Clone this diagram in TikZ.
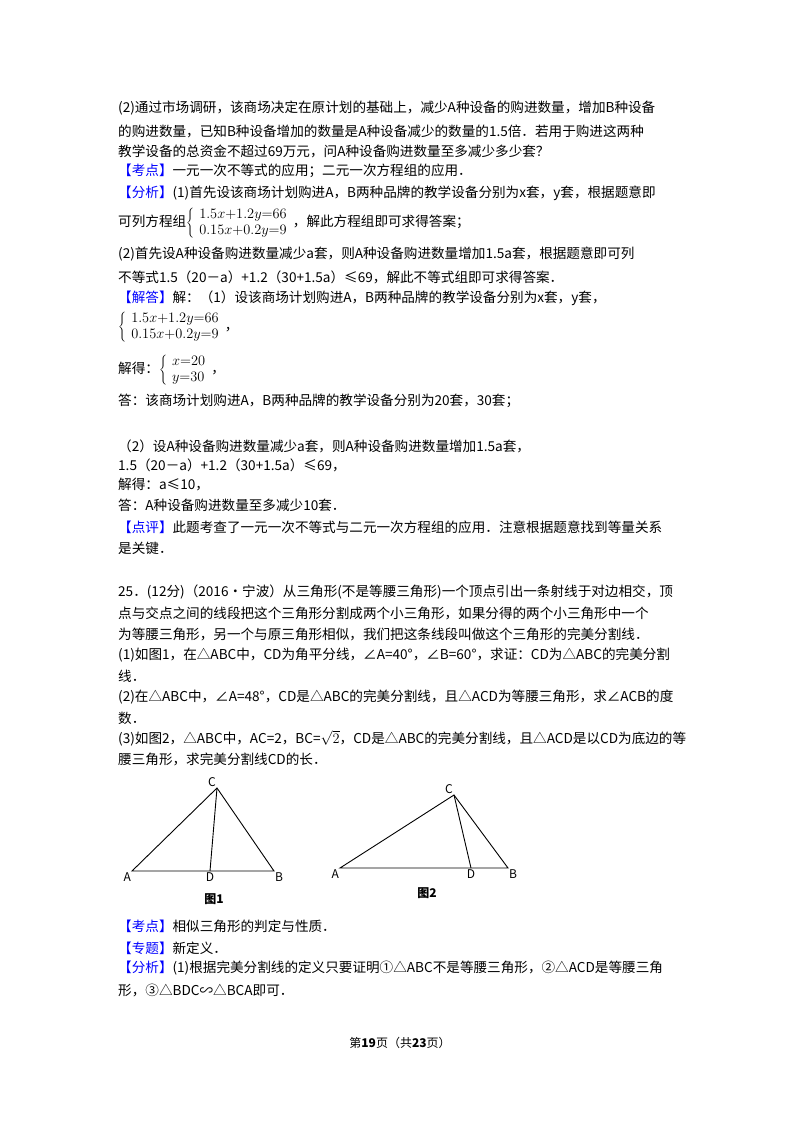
\documentclass[tikz,border=0pt]{standalone}
\usepackage{fontspec}
\setmainfont{Noto Sans CJK SC}
\begin{document}
\begin{tikzpicture}[x=1pt,y=-1pt,
  ln/.style={anchor=west,inner sep=0pt,font=\fontsize{13.6}{15}\selectfont},
  lbl/.style={inner sep=1pt,font=\fontsize{12}{14}\selectfont\itshape},
  edge/.style={line width=0.9pt}]
\newcommand{\kd}[1]{\textcolor{blue}{【#1】}}
\useasboundingbox (0,0) rectangle (800,1132);
\node[ln] (l1) at (118,108) {(2)通过市场调研，该商场决定在原计划的基础上，减少A种设备的购进数量，增加B种设备};
\node[ln] (l2) at (118,131) {的购进数量，已知B种设备增加的数量是A种设备减少的数量的1.5倍．若用于购进这两种};
\node[ln] (l3) at (118,151) {教学设备的总资金不超过69万元，问A种设备购进数量至多减少多少套？};
\node[ln] (l4) at (118,171) {\kd{考点}一元一次不等式的应用；二元一次方程组的应用．};
\node[ln] (l5) at (118,193) {\kd{分析}(1)首先设该商场计划购进A，B两种品牌的教学设备分别为x套，y套，根据题意即};
\node[ln] (l6) at (118,223) {可列方程组$\left\{\begin{array}{l}1.5x{+}1.2y{=}66\\[1pt]0.15x{+}0.2y{=}9\end{array}\right.$，解此方程组即可求得答案；};
\node[ln] (l7) at (118,254) {(2)首先设A种设备购进数量减少a套，则A种设备购进数量增加1.5a套，根据题意即可列};
\node[ln] (l8) at (118,277) {不等式1.5（20－a）+1.2（30+1.5a）≤69，解此不等式组即可求得答案．};
\node[ln] (l9) at (118,298) {\kd{解答}解：（1）设该商场计划购进A，B两种品牌的教学设备分别为x套，y套，};
\node[ln] (l10) at (118,327) {$\left\{\begin{array}{l}1.5x{+}1.2y{=}66\\[1pt]0.15x{+}0.2y{=}9\end{array}\right.$，};
\node[ln] (l11) at (118,370) {解得：$\left\{\begin{array}{l}x{=}20\\[1pt]y{=}30\end{array}\right.$，};
\node[ln] (l12) at (118,401) {答：该商场计划购进A，B两种品牌的教学设备分别为20套，30套；};
\node[ln] (l13) at (118,446) {（2）设A种设备购进数量减少a套，则A种设备购进数量增加1.5a套，};
\node[ln] (l14) at (118,465) {1.5（20－a）+1.2（30+1.5a）≤69，};
\node[ln] (l15) at (118,485) {解得：a≤10，};
\node[ln] (l16) at (118,505) {答：A种设备购进数量至多减少10套．};
\node[ln] (l17) at (118,527) {\kd{点评}此题考查了一元一次不等式与二元一次方程组的应用．注意根据题意找到等量关系};
\node[ln] (l18) at (118,548) {是关键．};
\node[ln] (l19) at (118,592) {25．(12分)（2016•宁波）从三角形(不是等腰三角形)一个顶点引出一条射线于对边相交，顶};
\node[ln] (l20) at (118,613) {点与交点之间的线段把这个三角形分割成两个小三角形，如果分得的两个小三角形中一个};
\node[ln] (l21) at (118,634) {为等腰三角形，另一个与原三角形相似，我们把这条线段叫做这个三角形的完美分割线．};
\node[ln] (l22) at (118,655) {(1)如图1，在△ABC中，CD为角平分线，∠A=40°，∠B=60°，求证：CD为△ABC的完美分割};
\node[ln] (l23) at (118,676) {线．};
\node[ln] (l24) at (118,697) {(2)在△ABC中，∠A=48°，CD是△ABC的完美分割线，且△ACD为等腰三角形，求∠ACB的度};
\node[ln] (l25) at (118,718) {数．};
\node[ln] (l26) at (118,738) {(3)如图2，△ABC中，AC=2，BC=$\sqrt{2}$，CD是△ABC的完美分割线，且△ACD是以CD为底边的等};
\node[ln] (l27) at (118,759) {腰三角形，求完美分割线CD的长．};
% figure 1
\coordinate (A1) at (132,871); \coordinate (B1) at (274,871);
\coordinate (C1) at (217,788); \coordinate (D1) at (210,871);
\draw[edge] (A1) -- (B1) -- (C1) -- cycle; \draw[edge] (C1) -- (D1);
\node[lbl,anchor=north east] (tA1) at (A1) {A};
\node[lbl,anchor=north west] (tB1) at (B1) {B};
\node[lbl,anchor=south east] (tC1) at (C1) {C};
\node[lbl,anchor=north] (tD1) at (D1) {D};
\node[font=\fontsize{12}{14}\selectfont\bfseries] (f1) at (214,899) {图1};
% figure 2
\coordinate (A2) at (340,868); \coordinate (B2) at (508,868);
\coordinate (C2) at (454,795); \coordinate (D2) at (471,868);
\draw[edge] (A2) -- (B2) -- (C2) -- cycle; \draw[edge] (C2) -- (D2);
\node[lbl,anchor=north east] (tA2) at (A2) {A};
\node[lbl,anchor=north west] (tB2) at (B2) {B};
\node[lbl,anchor=south east] (tC2) at (C2) {C};
\node[lbl,anchor=north] (tD2) at (D2) {D};
\node[font=\fontsize{12}{14}\selectfont\bfseries] (f2) at (427,893) {图2};
\node[ln] (l28) at (118,926) {\kd{考点}相似三角形的判定与性质．};
\node[ln] (l29) at (118,948) {\kd{专题}新定义．};
\node[ln] (l30) at (118,968) {\kd{分析}(1)根据完美分割线的定义只要证明①△ABC不是等腰三角形，②△ACD是等腰三角};
\node[ln] (l31) at (118,990) {形，③△BDC∽△BCA即可．};
\node[font=\fontsize{12}{14}\selectfont] (ft) at (400,1043) {第\textbf{\large 19}页（共\textbf{\large 23}页）};
\end{tikzpicture}
\end{document}
